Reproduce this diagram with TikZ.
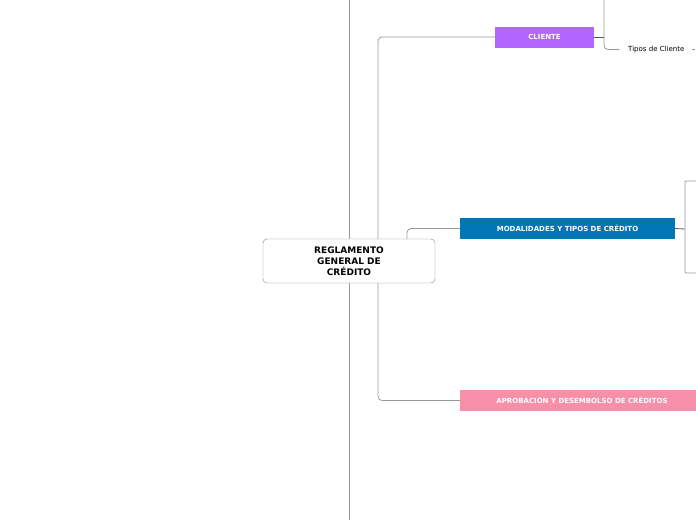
\documentclass[tikz,border=0pt]{standalone}
\usepackage{fontspec}
\setmainfont{DejaVu Sans}
\usetikzlibrary{positioning,arrows.meta}
\definecolor{clientecol}{HTML}{B266FF}
\definecolor{modalcol}{HTML}{0077B5}
\definecolor{aprobcol}{HTML}{F78FA8}
\tikzset{
  rama/.style={draw=black!40, line width=0.8pt, rounded corners=4pt},
  tallo/.style={draw=black!65, line width=0.8pt},
  tema/.style={minimum height=21pt, inner sep=0pt, text=white,
    font=\fontsize{7}{8}\selectfont\bfseries},
}
\begin{document}
\begin{tikzpicture}[x=1pt, y=-1pt]
      \useasboundingbox (0,0) rectangle (696,520);
      \coordinate (arriba) at (349,0);
      \coordinate (abajo) at (349,520);
      \coordinate (eje) at (378,0);
      \coordinate (pie) at (407,0);
      \coordinate (bifur) at (604,37);
      \coordinate (nudo) at (685,229);
      % lineas de fondo
      \draw[rama] (arriba) -- (abajo);
      % nodos
      \node[tema, fill=clientecol, minimum width=99pt] (cliente) at (544.5,37) {CLIENTE};
      \node[tema, fill=modalcol, minimum width=215pt] (modal) at (567.5,228.5) {MODALIDADES Y TIPOS DE CRÉDITO};
      \node[tema, fill=aprobcol, minimum width=244pt] (aprob) at (582,400.5) {APROBACIÓN Y DESEMBOLSO DE CRÉDITOS};
      \node[anchor=west, inner sep=0pt, font=\fontsize{7}{8}\selectfont] (tipos) at (628,49.5) {Tipos de Cliente};
      \draw[rama] (cliente.west) -| (eje |- aprob.west) -- (aprob.west);
      \node[draw=black!50, fill=white, rounded corners=4pt, minimum width=172pt, minimum height=44pt,
        align=center, font=\fontsize{9}{11}\selectfont\bfseries] (raiz) at (349,261) {REGLAMENTO\\GENERAL DE\\CRÉDITO};
      \draw[rama] (raiz.north -| pie) |- (modal.west);
      % ramas de CLIENTE
      \draw[tallo] (cliente.east) -- (bifur);
      \draw[rama, -{Latex[length=2.5pt, width=2pt]}] (bifur |- arriba) |- ([xshift=-8pt]tipos.west);
      \draw[rama] ([xshift=7pt]tipos.east) -- ([xshift=10pt]tipos.east);
      % ramas de MODALIDADES
      \draw[tallo] (modal.east) -- (nudo);
      \draw[rama, rounded corners=1pt] (696,181) -| (nudo) |- (696,273);
    \end{tikzpicture}
\end{document}
